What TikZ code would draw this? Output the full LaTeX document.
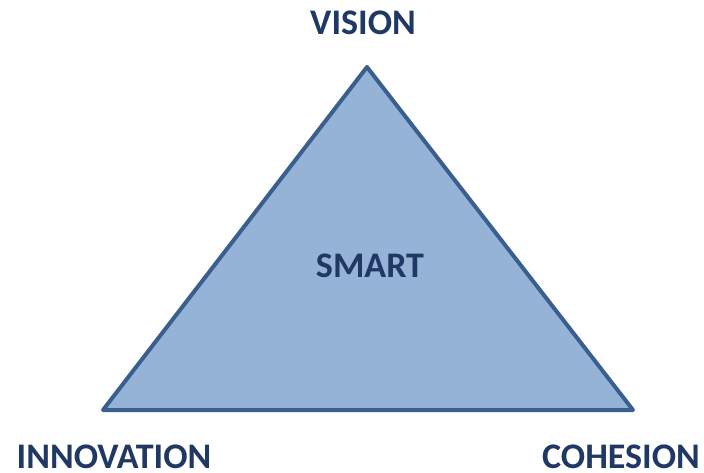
\documentclass[tikz,border=0pt]{standalone}
\usepackage{fontspec}
\setmainfont{Carlito}
\usetikzlibrary{positioning}

\definecolor{navy}{HTML}{1F3864}
\definecolor{edgeblue}{HTML}{3A5F8F}
\definecolor{fillblue}{HTML}{95B3D7}

\begin{document}
\begin{tikzpicture}[
		x=1pt, y=-1pt,
		label/.style={text=navy, font=\bfseries\fontsize{36}{40}\selectfont, inner sep=0pt},
		tri/.style={draw=edgeblue, fill=fillblue, line width=4pt, line join=round}
	]
	
		\useasboundingbox (0,0) rectangle (704,472);
		
		% Corners
		\coordinate (top) at (367,67);
		\coordinate (left) at (103,410);
		\coordinate (right) at (633,410);
		
		% Triangle
		\draw[tri] (top) -- (left) -- (right) -- cycle;
		
		% Labels
		\node[label] (vision) at (363,23) {VISION};
		\node[label] (smart) at (370,266) {SMART};
		\node[label] (innovation) at (114,457) {INNOVATION};
		\node[label] (cohesion) at (621,457) {COHESION};
		
	\end{tikzpicture}
\end{document}
